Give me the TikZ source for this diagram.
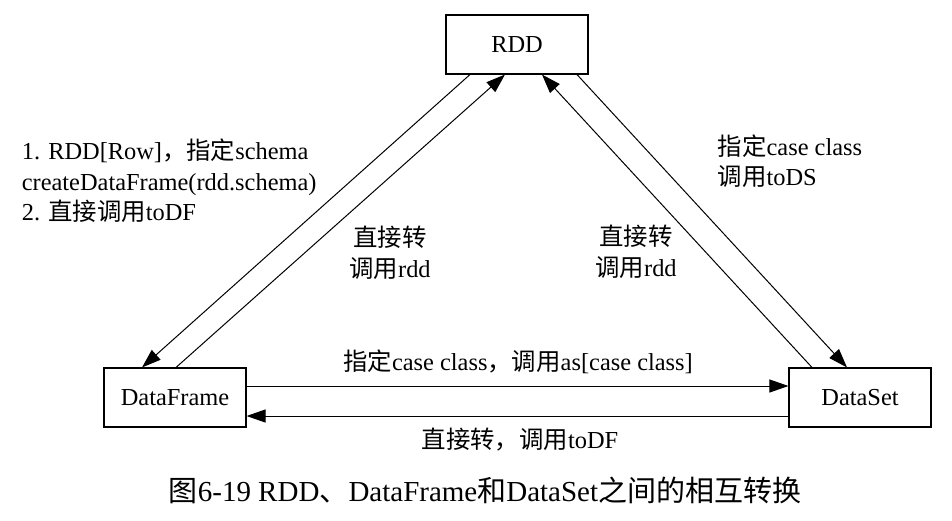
\documentclass[tikz,border=0pt]{standalone}
\usepackage{fontspec}
\setmainfont{Liberation Serif}
\newfontfamily\cjk{Noto Sans CJK SC}
\newcommand{\zh}[1]{{\cjk #1}}
\usetikzlibrary{arrows.meta,positioning}

\begin{document}
\begin{tikzpicture}[x=1pt,y=-1pt,->,>={Triangle[length=19pt,width=13pt]},
	line width=1pt,on grid,
	box node/.style={draw,line width=1.1pt,minimum width=142pt,minimum height=59pt,
		font=\fontsize{24.4}{28}\selectfont},
	text node/.style={font=\fontsize{24.4}{30.5}\selectfont,align=center}]
\useasboundingbox (0,0) rectangle (952,520);
\node[box node] (rdd) at (517,44.5) {RDD};
\node[box node] (df) [below left=353pt and 342pt of rdd] {DataFrame};
\node[box node] (ds) [below right=353pt and 343pt of rdd] {DataSet};
\draw ([xshift=-47pt]rdd.south) -- ([xshift=-33pt]df.north);
\draw ([xshift=1pt]df.north) -- ([xshift=-12pt]rdd.south);
\draw ([xshift=-48pt]ds.north) -- ([xshift=25pt]rdd.south);
\draw ([xshift=60pt]rdd.south) -- ([xshift=-13pt]ds.north);
\draw ([yshift=11.5pt]df.east) -- ([yshift=11.5pt]ds.west);
\draw ([yshift=-18.5pt]ds.west) -- ([yshift=-18.5pt]df.east);
% labels
\node[text node,align=left,anchor=west] (dflabel) at (18,181)
	{1. RDD[Row]\zh{，指定}schema\\createDataFrame(rdd.schema)\\2. \zh{直接调用}toDF};
\node[text node] (dfrdd) at (390,253) {\zh{直接转}\\\zh{调用}rdd};
\node[text node] (dsrdd) at (636,252) {\zh{直接转}\\\zh{调用}rdd};
\node[text node,align=left,anchor=west] (dslabel) at (714,161)
	{\zh{指定}case class\\\zh{调用}toDS};
\node[text node] (asds) at (518,362) {\zh{指定}case class\zh{，调用}as[case class]};
\node[text node] (todf) at (520,440) {\zh{直接转，调用}toDF};
\node[text node,font=\fontsize{29}{32}\selectfont] (caption) at (485,490)
	{\zh{图}6-19 RDD\zh{、}DataFrame\zh{和}DataSet\zh{之间的相互转换}};
\end{tikzpicture}
\end{document}
